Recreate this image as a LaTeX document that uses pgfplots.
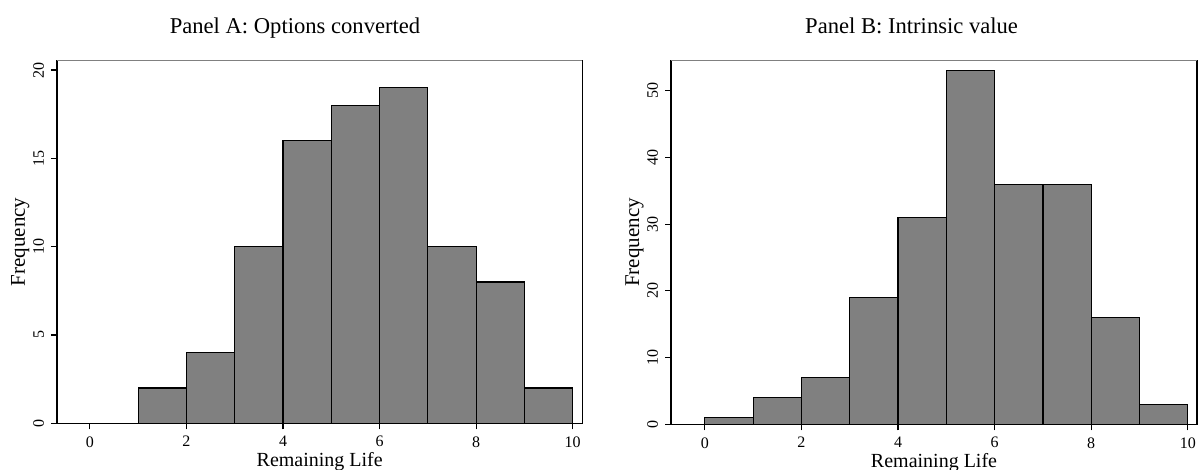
\documentclass[border=0pt]{standalone}
\usepackage{pgfplots}
\pgfplotsset{compat=1.18}
\usepackage{fontspec}
\setmainfont{Liberation Serif}
\begin{document}
\begin{tikzpicture}
\useasboundingbox (0,0) rectangle (599pt,235pt);
\pgfplotsset{
  hist/.style={
    scale only axis,
    anchor=south west,
    axis line style={black, line width=0.6pt},
    xtick={0,2,...,10},
    xtick pos=bottom, ytick pos=left,
    tick align=outside,
    major tick length=3pt,
    every tick/.style={black, line width=0.6pt},
    /pgf/number format/assume math mode=true,
    ticklabel style={font=\fontsize{8}{9}\selectfont},
    yticklabel style={rotate=90, anchor=south},
    xlabel={Remaining Life},
    xlabel style={at={(axis description cs:0.5,0)}, anchor=base, yshift=-21.85pt, font=\fontsize{10}{12}\selectfont},
    ylabel={Frequency},
    ylabel style={at={([xshift=-16pt]axis description cs:0,0.5)}, anchor=base, font=\fontsize{10.5}{12}\selectfont},
    ymin=0,
  },
  barstyle/.style={ybar interval, fill=gray, draw=black, line width=0.6pt},
}
\begin{axis}[hist,
  at={(28.5pt,23.35pt)}, width=262.7pt, height=181.3pt,
  xmin=-0.68, xmax=10.2, ymax=20.53,
  ytick={0,5,...,20}]
\addplot[barstyle] coordinates {(0,0) (1,2) (2,4) (3,10) (4,16) (5,18) (6,19) (7,10) (8,8) (9,2) (10,2)};
\draw[gray, line width=0.8pt] (rel axis cs:0,1) -- (rel axis cs:1,1);
\end{axis}
\begin{axis}[hist,
  at={(335.5pt,22.85pt)}, width=263pt, height=181.8pt,
  xmin=-0.70, xmax=10.19, ymax=54.5,
  ytick={0,10,...,50}]
\addplot[barstyle] coordinates {(0,1) (1,4) (2,7) (3,19) (4,31) (5,53) (6,36) (7,36) (8,16) (9,3) (10,3)};
\draw[gray, line width=0.8pt] (rel axis cs:0,1) -- (rel axis cs:1,1);
\end{axis}
\node[anchor=base, font=\fontsize{11.3}{13}\selectfont] at (147.5pt,218pt) {Panel A: Options converted};
\node[anchor=base, font=\fontsize{11.3}{13}\selectfont] at (455.8pt,218pt) {Panel B: Intrinsic value};
\end{tikzpicture}
\end{document}
